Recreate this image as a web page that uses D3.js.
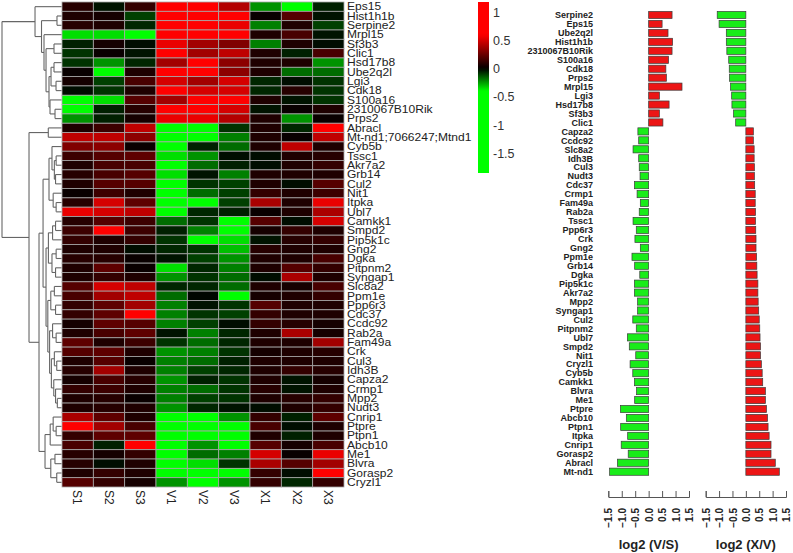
<!DOCTYPE html>
<html>
<head>
<meta charset="utf-8">
<script src="https://cdn.jsdelivr.net/npm/d3@7/dist/d3.min.js"></script>
<style>
  body { margin: 0; background: #fff; }
  svg { display: block; font-family: Arial, "Liberation Sans", sans-serif; }
</style>
</head>
<body>
<svg id="chart" width="793" height="553"></svg>
<script>
// ---- data ----
const samples = ["S1", "S2", "S3", "V1", "V2", "V3", "X1", "X2", "X3"];

const heatGenes = ["Eps15", "Hist1h1b", "Serpine2", "Mrpl15", "Sf3b3", "Clic1", "Hsd17b8", "Ube2q2l",
  "Lgi3", "Cdk18", "S100a16", "2310067B10Rik", "Prps2", "Abracl", "Mt-nd1;7066247;Mtnd1", "Cyb5b",
  "Tssc1", "Akr7a2", "Grb14", "Cul2", "Nit1", "Itpka", "Ubl7", "Camkk1", "Smpd2", "Pip5k1c", "Gng2",
  "Dgka", "Pitpnm2", "Syngap1", "Slc8a2", "Ppm1e", "Ppp6r3", "Cdc37", "Ccdc92", "Rab2a", "Fam49a",
  "Crk", "Cul3", "Idh3B", "Capza2", "Crmp1", "Mpp2", "Nudt3", "Cnrip1", "Ptpre", "Ptpn1", "Abcb10",
  "Me1", "Blvra", "Gorasp2", "Cryzl1"];

// row-scaled expression, one row per gene, columns S1..X3
const heatValues = [
  [0.09, -0.03, 0.12, 1.0, 1.0, 0.42, -0.23, -0.8, -0.05],
  [0.07, 0.05, -0.1, 1.0, 1.0, 0.6, 0.02, 0.2, -0.03],
  [0.09, 0.07, -0.06, 1.0, 0.9, 0.55, -0.2, 0.07, -0.1],
  [-0.35, -0.35, -0.8, 1.0, 1.0, 0.9, 0.07, 0.17, -0.03],
  [-0.05, 0.05, -0.02, 0.55, 0.38, 0.3, -0.2, 0.07, -0.02],
  [-0.08, 0.02, -0.03, 0.8, 0.38, 0.45, 0.07, -0.05, 0.17],
  [-0.08, -0.23, -0.06, 0.38, 0.8, 0.33, 0.07, 0.07, -0.23],
  [0.02, -0.9, 0.07, 0.8, 0.8, 0.33, 0.07, -0.17, -0.17],
  [0.05, -0.1, 0.17, 0.5, 0.38, 0.5, -0.06, -0.02, -0.08],
  [-0.02, -0.08, 0.07, 0.8, 0.5, 0.5, -0.06, 0.09, -0.08],
  [-0.4, -0.35, 0.2, 0.38, 0.7, 0.7, 0.07, -0.03, -0.08],
  [-0.55, -0.05, 0.09, 0.8, 0.8, 0.5, -0.03, 0.02, 0.07],
  [-0.23, -0.05, 0.05, 0.55, 0.55, 0.42, 0.07, -0.23, 0.02],
  [0.07, 0.14, 0.45, -1.2, -1.2, -0.08, 0.07, -0.06, 0.75],
  [0.45, 0.45, 0.33, -1.3, -1.3, -0.2, 0.07, 0.02, 0.45],
  [0.3, 0.33, 0.02, -1.0, -0.05, -0.17, 0.07, 0.45, 0.07],
  [0.14, 0.2, 0.22, -0.35, -0.23, -0.02, -0.02, 0.07, 0.09],
  [0.07, 0.17, 0.17, -0.45, -0.17, -0.05, -0.02, 0.07, 0.12],
  [0.09, 0.17, 0.2, -0.35, -0.03, -0.2, 0.07, 0.07, 0.07],
  [0.07, 0.2, 0.2, -1.0, -0.08, -0.1, 0.07, -0.02, 0.2],
  [0.02, 0.14, 0.07, -1.0, -0.17, -0.1, 0.12, 0.07, 0.14],
  [0.09, 0.5, 0.22, -1.0, -0.45, -0.1, 0.4, 0.07, 0.55],
  [0.55, 0.5, 0.45, -1.0, -0.06, -0.05, 0.02, 0.07, 0.4],
  [0.09, 0.2, 0.14, -0.17, -0.08, -0.9, 0.2, -0.02, 0.5],
  [0.14, 0.7, 0.14, -0.05, -0.2, -0.9, 0.05, 0.12, 0.07],
  [0.12, 0.07, 0.12, -0.08, -0.5, -0.35, -0.03, 0.09, 0.12],
  [0.07, 0.07, -0.02, -0.06, -0.08, -0.3, 0.09, 0.07, 0.07],
  [0.09, 0.09, 0.02, -0.03, -0.1, -0.23, 0.07, 0.07, 0.17],
  [0.07, 0.22, 0.02, -0.35, -0.06, -0.2, 0.07, 0.2, 0.12],
  [0.07, 0.12, 0.07, -0.23, -0.08, -0.17, -0.02, 0.4, 0.07],
  [0.2, 0.5, 0.45, -0.06, -0.06, -0.17, 0.07, 0.05, 0.17],
  [0.17, 0.38, 0.45, -0.17, -0.01, -0.9, 0.05, 0.07, 0.12],
  [0.12, 0.22, 0.38, -0.2, -0.03, -0.08, 0.2, 0.07, 0.07],
  [0.12, 0.22, 0.7, -0.2, -0.08, -0.1, 0.12, 0.07, 0.07],
  [0.05, 0.22, 0.2, -0.2, -0.1, -0.02, 0.12, 0.09, 0.05],
  [0.07, 0.17, 0.22, -0.03, -0.2, -0.06, 0.07, 0.4, 0.05],
  [0.22, 0.07, 0.14, -0.08, -0.17, -0.06, 0.07, 0.07, 0.38],
  [0.2, 0.22, 0.07, -0.23, -0.2, -0.08, 0.05, 0.07, 0.09],
  [0.07, 0.2, 0.02, -0.2, -0.17, -0.05, 0.07, 0.07, 0.07],
  [0.09, 0.38, 0.07, -0.2, -0.1, -0.06, 0.07, 0.12, 0.09],
  [0.05, 0.17, 0.09, -0.23, -0.05, -0.08, 0.07, -0.03, 0.05],
  [0.12, 0.14, 0.07, -0.2, -0.17, -0.08, 0.09, -0.03, 0.07],
  [0.07, 0.09, 0.02, -0.2, -0.1, -0.08, 0.07, 0.09, 0.12],
  [0.07, 0.09, 0.07, -0.23, -0.06, -0.03, -0.02, 0.07, 0.12],
  [0.4, 0.22, 0.07, -1.0, -1.0, -0.23, 0.12, -0.05, 0.22],
  [0.9, 0.38, 0.17, -1.0, -0.5, -0.9, 0.17, -0.02, 0.07],
  [0.12, 0.22, 0.22, -1.0, -1.0, -0.9, 0.07, -0.05, 0.07],
  [0.17, -0.05, 0.8, -1.0, -0.23, -0.9, 0.2, 0.05, 0.17],
  [0.09, 0.05, 0.12, -1.0, -0.17, -0.2, 0.5, 0.02, 0.55],
  [0.09, -0.02, 0.07, -0.45, -0.35, -0.08, 0.4, 0.2, 0.38],
  [0.07, 0.12, 0.07, -1.0, -1.0, -0.6, 0.12, -0.02, 0.8],
  [0.2, 0.12, 0.05, -0.23, -1.0, -0.23, 0.12, -0.06, 0.12]
];

// row dendrogram: [merge height, left, right]
const rowTree = [10,
  [4.45, "Eps15",
    [3.36, [0.76, "Hist1h1b", "Serpine2"],
      [2.94, "Mrpl15",
        [2.6, [1.26, "Sf3b3", "Clic1"],
          [2.1, [1.76, [1.26, "Hsd17b8", "Ube2q2l"], [0.92, "Lgi3", "Cdk18"]],
            [1.93, "S100a16", [1.09, "2310067B10Rik", "Prps2"]]]]]]],
  [5.46, [2.22, "Abracl", "Mt-nd1;7066247;Mtnd1"],
    [3.78,
      [3.1,
        [2.1, [1.6, "Cyb5b", [1.2, [0.9, "Tssc1", "Akr7a2"], [1.0, "Grb14", "Cul2"]]],
          [1.4, "Nit1", [0.9, "Itpka", "Ubl7"]]],
        [2.6,
          [2.2, [1.5, [1.0, "Camkk1", "Smpd2"], "Pip5k1c"],
            [1.6, [0.9, "Gng2", "Dgka"], [1.0, "Pitpnm2", "Syngap1"]]],
          [2.3, [1.8, [1.2, "Slc8a2", "Ppm1e"], [1.0, "Ppp6r3", "Cdc37"]],
            [2.0, [1.5, "Ccdc92", [0.9, "Rab2a", "Fam49a"]],
              [1.7, [1.2, "Crk", [0.8, "Cul3", "Idh3B"]],
                [1.3, "Capza2", [1.0, "Crmp1", [0.7, "Mpp2", "Nudt3"]]]]]]]],
      [2.77,
        [1.9, [1.4, "Cnrip1", [0.9, "Ptpre", "Ptpn1"]], "Abcb10"],
        [1.8, [1.1, "Me1", "Blvra"], [0.8, "Gorasp2", "Cryzl1"]]]]]];

const legendTicks = [1, 0.5, 0, -0.5, -1, -1.5];
const legendExtent = [-1.85, 1.18];

const barGenes = ["Serpine2", "Eps15", "Ube2q2l", "Hist1h1b", "2310067B10Rik", "S100a16", "Cdk18",
  "Prps2", "Mrpl15", "Lgi3", "Hsd17b8", "Sf3b3", "Clic1", "Capza2", "Ccdc92", "Slc8a2", "Idh3B",
  "Cul3", "Nudt3", "Cdc37", "Crmp1", "Fam49a", "Rab2a", "Tssc1", "Ppp6r3", "Crk", "Gng2", "Ppm1e",
  "Grb14", "Dgka", "Pip5k1c", "Akr7a2", "Mpp2", "Syngap1", "Cul2", "Pitpnm2", "Ubl7", "Smpd2",
  "Nit1", "Cryzl1", "Cyb5b", "Camkk1", "Blvra", "Me1", "Ptpre", "Abcb10", "Ptpn1", "Itpka",
  "Cnrip1", "Gorasp2", "Abracl", "Mt-nd1"];

const vsValues = [0.87, 0.5, 0.72, 0.89, 0.87, 0.74, 0.64, 0.66, 1.24, 0.4, 0.76, 0.4, 0.53,
  -0.4, -0.37, -0.58, -0.37, -0.35, -0.32, -0.53, -0.43, -0.31, -0.35, -0.58, -0.46, -0.51,
  -0.31, -0.62, -0.52, -0.33, -0.53, -0.53, -0.41, -0.41, -0.59, -0.46, -0.79, -0.72, -0.48,
  -0.69, -0.59, -0.53, -0.45, -0.52, -1.05, -0.83, -1.04, -0.78, -1.02, -0.76, -1.16, -1.45];

const xvValues = [-1.07, -1.0, -0.73, -0.73, -0.71, -0.64, -0.62, -0.61, -0.57, -0.53, -0.52,
  -0.46, -0.38, 0.28, 0.28, 0.31, 0.31, 0.32, 0.32, 0.33, 0.35, 0.35, 0.36, 0.36, 0.37, 0.38,
  0.38, 0.4, 0.41, 0.42, 0.45, 0.45, 0.46, 0.48, 0.5, 0.52, 0.53, 0.55, 0.55, 0.58, 0.61, 0.63,
  0.73, 0.73, 0.77, 0.81, 0.83, 0.87, 0.94, 0.94, 1.1, 1.25];

const axisTicks = [-1.5, -1, -0.5, 0, 0.5, 1, 1.5];
const barTitles = ["log2 (V/S)", "log2 (X/V)"];

// ---- drawing ----
const svg = d3.select("#chart");

const color = d3.scaleLinear()
  .domain([-0.4, 0, 0.6])
  .range(["#00ff00", "#000000", "#ff0000"])
  .clamp(true);

// heatmap
const hx = d3.scaleBand().domain(samples).range([62, 344]);
const hy = d3.scaleBand().domain(heatGenes).range([2, 487]);

const cells = [];
heatGenes.forEach((g, i) => samples.forEach((s, j) => cells.push({ g, s, v: heatValues[i][j] })));

svg.append("g").selectAll("rect")
  .data(cells)
  .join("rect")
  .attr("x", d => hx(d.s))
  .attr("y", d => hy(d.g))
  .attr("width", hx.bandwidth())
  .attr("height", hy.bandwidth())
  .attr("fill", d => color(d.v))
  .attr("stroke", "#a8a8a8")
  .attr("stroke-width", 0.8);

// row labels are drawn a little wide, like the original
svg.append("g").selectAll("text")
  .data(heatGenes)
  .join("text")
  .attr("transform", d => `translate(347,${hy(d) + hy.bandwidth() / 2}) scale(1.17,1)`)
  .attr("dy", "0.36em")
  .attr("font-size", 10.3)
  .attr("fill", "#222")
  .text(d => d);

svg.append("g").selectAll("text")
  .data(samples)
  .join("text")
  .attr("transform", d => `translate(${hx(d) + hx.bandwidth() / 2},490) rotate(90)`)
  .attr("dy", "0.36em")
  .attr("font-size", 12)
  .attr("fill", "#222")
  .text(d => d);

// dendrogram
const root = d3.hierarchy(rowTree, d => Array.isArray(d) ? d.slice(1) : null);
const dx = d3.scaleLinear().domain([0, 10]).range([61.5, 2]);
root.eachAfter(n => {
  if (n.children) {
    n.h = n.data[0];
    n.py = d3.mean(n.children, c => c.py);
  } else {
    n.h = 0;
    n.py = hy(n.data) + hy.bandwidth() / 2;
  }
});
const links = [];
root.each(n => {
  if (!n.children) return;
  const x0 = dx(n.h);
  links.push([[x0, n.children[0].py], [x0, n.children[1].py]]);
  n.children.forEach(c => links.push([[x0, c.py], [dx(c.h), c.py]]));
});
svg.append("g").selectAll("path")
  .data(links)
  .join("path")
  .attr("d", d3.line())
  .attr("fill", "none")
  .attr("stroke", "#666")
  .attr("stroke-width", 1.1);

// colour key
const ky = d3.scaleLinear().domain(legendExtent).range([173, 2]);
const grad = svg.append("defs").append("linearGradient")
  .attr("id", "key").attr("x1", 0).attr("x2", 0).attr("y1", 1).attr("y2", 0);
d3.range(0, 1.0001, 0.02).forEach(t => {
  const v = legendExtent[0] + t * (legendExtent[1] - legendExtent[0]);
  grad.append("stop").attr("offset", t).attr("stop-color", color(v));
});
svg.append("rect")
  .attr("x", 478).attr("y", ky(legendExtent[1]))
  .attr("width", 11).attr("height", ky(legendExtent[0]) - ky(legendExtent[1]))
  .attr("fill", "url(#key)");
svg.append("g").selectAll("text")
  .data(legendTicks)
  .join("text")
  .attr("x", 493)
  .attr("y", d => ky(d))
  .attr("dy", "0.36em")
  .attr("font-size", 12.5)
  .attr("fill", "#333")
  .text(d => d);

// bar charts
const by = d3.scalePoint().domain(barGenes).range([15, 471.7]);
const barH = by.step() * 0.8;

svg.append("g").selectAll("text")
  .data(barGenes)
  .join("text")
  .attr("x", 593)
  .attr("y", d => by(d))
  .attr("dy", "0.36em")
  .attr("text-anchor", "end")
  .attr("font-size", 9)
  .attr("font-weight", "bold")
  .attr("fill", "#222")
  .text(d => d);

const panels = [
  { values: vsValues, range: [608.3, 689], title: barTitles[0] },
  { values: xvValues, range: [705.7, 786], title: barTitles[1] }
];

panels.forEach(p => {
  const x = d3.scaleLinear().domain([-1.5, 1.5]).range(p.range);
  svg.append("g").selectAll("rect")
    .data(barGenes)
    .join("rect")
    .attr("x", (d, i) => x(Math.min(0, p.values[i])))
    .attr("y", d => by(d) - barH / 2)
    .attr("width", (d, i) => Math.abs(x(p.values[i]) - x(0)))
    .attr("height", barH)
    .attr("fill", (d, i) => p.values[i] < 0 ? "#19ec19" : "#ec1515")
    .attr("stroke", "#3c3c3c")
    .attr("stroke-width", 0.7);

  const ax = svg.append("g")
    .attr("transform", "translate(0,497)")
    .call(d3.axisBottom(x).tickValues(axisTicks).tickSize(-6).tickFormat(d3.format(".1f")));
  ax.selectAll("path, line").attr("stroke", "#555");
  ax.selectAll("text")
    .attr("transform", "rotate(-90)")
    .attr("x", -11)
    .attr("y", 0)
    .attr("dy", "0.36em")
    .attr("text-anchor", "end")
    .attr("font-size", 10)
    .attr("font-weight", "bold")
    .attr("font-family", "Arial, 'Liberation Sans', sans-serif")
    .attr("fill", "#222");

  svg.append("text")
    .attr("x", (p.range[0] + p.range[1]) / 2)
    .attr("y", 549)
    .attr("text-anchor", "middle")
    .attr("font-size", 13)
    .attr("font-weight", "bold")
    .attr("fill", "#222")
    .text(p.title);
});
</script>
</body>
</html>
